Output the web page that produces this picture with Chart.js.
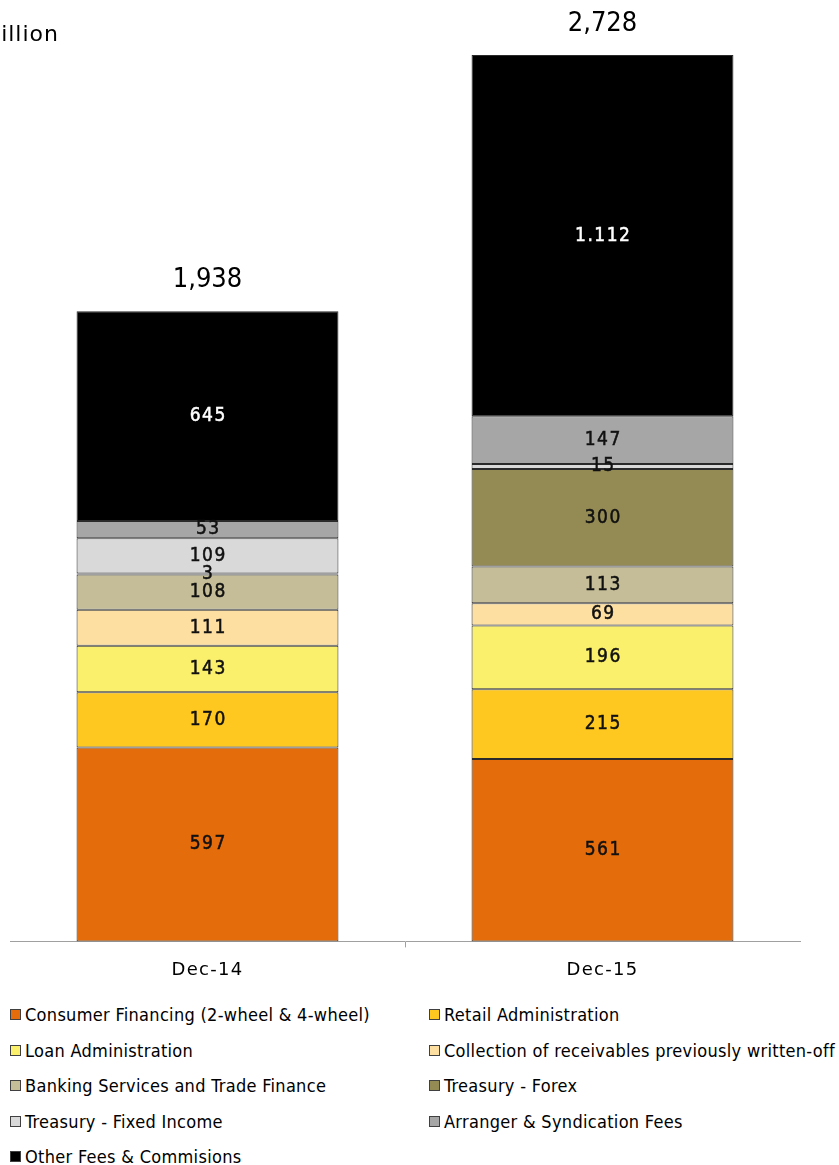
<!DOCTYPE html>
<html><head><meta charset="utf-8">
<script src="https://cdn.jsdelivr.net/npm/chart.js@4.4.1/dist/chart.umd.min.js"></script>
<style>
html,body{margin:0;padding:0;background:#fff;}
body{width:839px;height:1165px;overflow:hidden;position:relative;font-family:'DejaVu Sans Condensed','DejaVu Sans',sans-serif;}
#wrap{position:absolute;left:0;top:0;width:839px;height:997px;}
#legend{position:absolute;left:0;top:997px;width:839px;display:grid;grid-template-columns:420px 419px;}
.item{height:35.5px;display:flex;align-items:center;font-size:18px;letter-spacing:0.3px;color:#000;white-space:nowrap;}
.item:nth-child(odd){padding-left:10px}
.item:nth-child(even){padding-left:9px}
.box{width:9px;height:9px;border:1px solid #404040;margin-right:4px;flex:none;}
</style></head>
<body>
<div id="wrap"><canvas id="c"></canvas></div>
<div id="legend"></div>
<script>
const unitLabel = 'Rp billion';
const categories = ['Dec-14', 'Dec-15'];
const seriesNames = [
  'Consumer Financing (2-wheel & 4-wheel)',
  'Retail Administration',
  'Loan Administration',
  'Collection of receivables previously written-off',
  'Banking Services and Trade Finance',
  'Treasury - Forex',
  'Treasury - Fixed Income',
  'Arranger & Syndication Fees',
  'Other Fees & Commisions'
];
const consumerFinancing = [597, 561];
const retailAdministration = [170, 215];
const loanAdministration = [143, 196];
const collectionWrittenOff = [111, 69];
const bankingTradeFinance = [108, 113];
const treasuryForex = [3, 300];
const treasuryFixedIncome = [109, 15];
const arrangerSyndication = [53, 147];
const otherFees = [645, 1112];
const totalValues = [1938, 2728];

const seriesValues = [consumerFinancing, retailAdministration, loanAdministration, collectionWrittenOff,
  bankingTradeFinance, treasuryForex, treasuryFixedIncome, arrangerSyndication, otherFees];
const seriesColors = ['#E46C0A', '#FFC820', '#FAF06C', '#FDDFA2', '#C4BD97', '#948A54', '#D9D9D9', '#A6A6A6', '#000000'];
const labelColors = ['#111', '#111', '#111', '#111', '#111', '#111', '#111', '#111', '#FFFFFF'];

const FONT = "'DejaVu Sans Condensed','DejaVu Sans',sans-serif";
const FONT_WIDE = "'DejaVu Sans',sans-serif";

const spacing = {
  id: 'spacing',
  beforeDraw(chart) { chart.ctx.letterSpacing = '1.3px'; },
  afterDraw(chart) { chart.ctx.letterSpacing = '0px'; }
};

const valueLabels = {
  id: 'valueLabels',
  afterDatasetsDraw(chart) {
    const ctx = chart.ctx;
    ctx.save();
    ctx.textAlign = 'center';
    ctx.textBaseline = 'middle';
    ctx.font = "19px " + FONT;
    ctx.letterSpacing = '1.5px';
    ctx.lineWidth = 0.5;
    chart.data.datasets.forEach((ds, di) => {
      const meta = chart.getDatasetMeta(di);
      meta.data.forEach((bar, i) => {
        const v = ds.data[i];
        const txt = v.toLocaleString('de-DE');
        ctx.fillStyle = labelColors[di];
        ctx.strokeStyle = labelColors[di];
        const y = (bar.y + bar.base) / 2;
        ctx.fillText(txt, bar.x + 0.75, y);
        ctx.strokeText(txt, bar.x + 0.75, y);
      });
    });
    const last = chart.getDatasetMeta(chart.data.datasets.length - 1);
    ctx.font = "27px " + FONT;
    ctx.letterSpacing = '0px';
    ctx.fillStyle = '#000';
    ctx.textBaseline = 'alphabetic';
    last.data.forEach((bar, i) => {
      ctx.fillText(totalValues[i].toLocaleString('en-US'), bar.x, bar.y - 24);
    });
    ctx.textAlign = 'right';
    ctx.textBaseline = 'middle';
    ctx.font = "22px " + FONT_WIDE;
    ctx.letterSpacing = '1px';
    ctx.fillText(unitLabel, 59, 35);
    ctx.restore();
  }
};

const chart = new Chart(document.getElementById('c'), {
  type: 'bar',
  data: {
    labels: categories,
    datasets: seriesNames.map((name, i) => ({
      label: name,
      data: seriesValues[i],
      backgroundColor: seriesColors[i],
      borderColor: '#2A2A2A',
      borderWidth: 1,
      borderSkipped: false,
      categoryPercentage: 1,
      barPercentage: 0.663
    }))
  },
  options: {
    responsive: true,
    maintainAspectRatio: false,
    animation: false,
    layout: { padding: { top: 55, left: 10, right: 39, bottom: 4 } },
    plugins: { legend: { display: false }, tooltip: { enabled: false } },
    scales: {
      x: {
        stacked: true,
        grid: {
          drawOnChartArea: false,
          drawTicks: true,
          tickLength: 6,
          color: (c) => (c.index === 1 ? '#A0A0A0' : 'rgba(0,0,0,0)')
        },
        border: { display: true, color: '#A0A0A0', width: 1 },
        ticks: { color: '#000', padding: 12, font: { family: FONT_WIDE, size: 18 } }
      },
      y: {
        stacked: true,
        display: false,
        min: 0,
        max: Math.max(...totalValues)
      }
    }
  },
  plugins: [spacing, valueLabels]
});

const legendEl = document.getElementById('legend');
chart.data.datasets.forEach((ds) => {
  const item = document.createElement('div');
  item.className = 'item';
  const box = document.createElement('span');
  box.className = 'box';
  box.style.background = ds.backgroundColor;
  const t = document.createElement('span');
  t.textContent = ds.label;
  item.appendChild(box);
  item.appendChild(t);
  legendEl.appendChild(item);
});
</script>
</body></html>
